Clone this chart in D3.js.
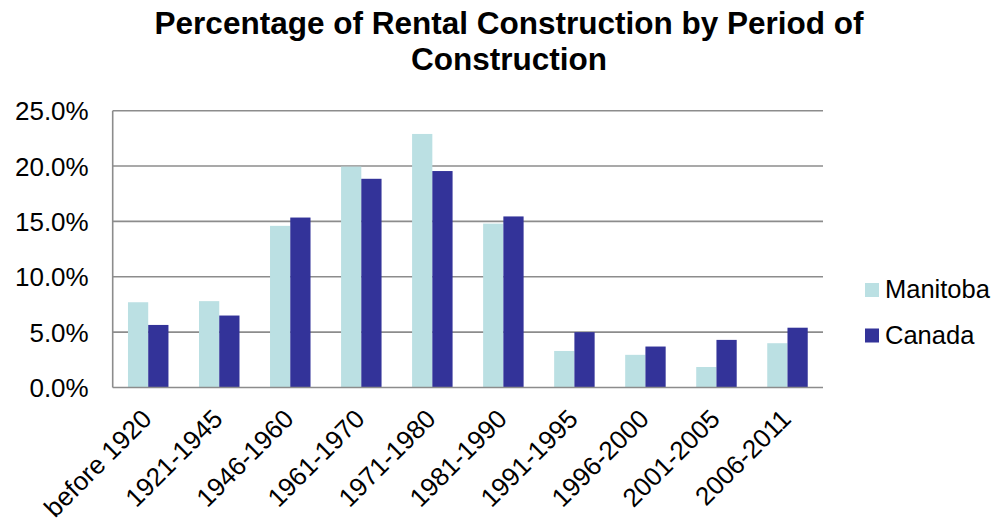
<!DOCTYPE html>
<html>
<head>
<meta charset="utf-8">
<script src="https://cdn.jsdelivr.net/npm/d3@7"></script>
<style>
  body { margin: 0; background: #fff; }
  text { font-family: "Liberation Sans", Arial, sans-serif; fill: #000; }
</style>
</head>
<body>
<div id="chart"></div>
<script>
// data
const periods = ['before 1920', '1921-1945', '1946-1960', '1961-1970', '1971-1980',
                 '1981-1990', '1991-1995', '1996-2000', '2001-2005', '2006-2011'];
const manitoba = [7.7, 7.8, 14.6, 19.95, 22.9, 14.8, 3.3, 2.95, 1.85, 4.0];
const canada = [5.65, 6.5, 15.35, 18.85, 19.55, 15.45, 5.0, 3.7, 4.3, 5.4];
const seriesNames = ['Manitoba', 'Canada'];
const colors = ['#bbe0e3', '#333399'];
const yTicks = [0, 5, 10, 15, 20, 25];

const width = 995;
const height = 521;

const table = periods.map((p, i) => ({ period: p, values: [manitoba[i], canada[i]] }));

const svg = d3.select('#chart')
  .append('svg')
  .attr('width', width)
  .attr('height', height);

const area = { left: 112.7, right: 823, top: 110.7, bottom: 387.5 };

const x0 = d3.scaleBand()
  .domain(periods)
  .range([area.left, area.right])
  .padding(0);

const x1 = d3.scaleBand()
  .domain(seriesNames)
  .range([x0.bandwidth() * 0.215, x0.bandwidth() * 0.785]);

const y = d3.scaleLinear()
  .domain([0, 25])
  .range([area.bottom, area.top]);

// title (two lines)
const titleLines = ['Percentage of Rental Construction by Period of', 'Construction'];
svg.append('g')
  .selectAll('text')
  .data(titleLines)
  .join('text')
  .attr('x', 509)
  .attr('y', (d, i) => 34 + i * 35.5)
  .attr('text-anchor', 'middle')
  .style('font-size', '31.5px')
  .style('font-weight', 'bold')
  .text(d => d);

// gridlines
svg.append('g')
  .attr('class', 'grid')
  .selectAll('line')
  .data(yTicks.filter(d => d > 0))
  .join('line')
  .attr('x1', area.left)
  .attr('x2', area.right)
  .attr('y1', d => y(d))
  .attr('y2', d => y(d))
  .attr('stroke', '#8c8c8c')
  .attr('stroke-width', 1.6);

// y axis labels
const yAxis = d3.axisLeft(y)
  .tickValues(yTicks)
  .tickSize(0)
  .tickPadding(24)
  .tickFormat(d => d.toFixed(1) + '%');

svg.append('g')
  .attr('transform', `translate(${area.left},0)`)
  .call(yAxis)
  .call(g => g.select('.domain').remove())
  .selectAll('text')
  .style('font-size', '26px')
  .attr('font-family', null)
  .attr('dy', '0.35em');

// bars
const groups = svg.append('g')
  .selectAll('g')
  .data(table)
  .join('g')
  .attr('transform', d => `translate(${x0(d.period)},0)`);

groups.selectAll('rect')
  .data(d => d.values.map((v, i) => ({ key: seriesNames[i], value: v, i })))
  .join('rect')
  .attr('x', d => x1(d.key))
  .attr('y', d => y(d.value))
  .attr('width', x1.bandwidth())
  .attr('height', d => y(0) - y(d.value))
  .attr('fill', d => colors[d.i]);

// axis lines
svg.append('line')
  .attr('x1', area.left).attr('x2', area.left)
  .attr('y1', area.top).attr('y2', area.bottom)
  .attr('stroke', '#8c8c8c').attr('stroke-width', 1.6);
svg.append('line')
  .attr('x1', area.left).attr('x2', area.right)
  .attr('y1', area.bottom).attr('y2', area.bottom)
  .attr('stroke', '#8c8c8c').attr('stroke-width', 1.6);

// x labels, rotated
svg.append('g')
  .selectAll('text')
  .data(periods)
  .join('text')
  .attr('transform', d => `translate(${x0(d) + x0.bandwidth() / 2 + 5},${area.bottom + 33}) rotate(-45)`)
  .attr('text-anchor', 'end')
  .style('font-size', '26px')
  .text(d => d);

// legend
const legend = svg.append('g')
  .selectAll('g')
  .data(seriesNames)
  .join('g')
  .attr('transform', (d, i) => `translate(865,${283 + i * 45.5})`);

legend.append('rect')
  .attr('width', 14)
  .attr('height', 14)
  .attr('fill', (d, i) => colors[i]);

legend.append('text')
  .attr('x', 20)
  .attr('y', 15)
  .style('font-size', '25.5px')
  .text(d => d);
</script>
</body>
</html>
